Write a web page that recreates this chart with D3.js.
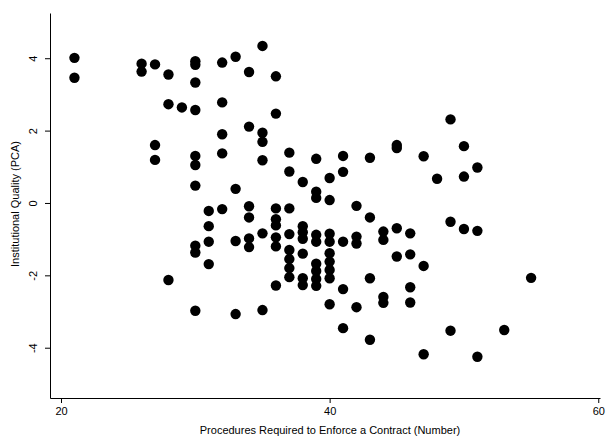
<!DOCTYPE html>
<html lang="en">
<head>
  <meta charset="UTF-8">
  <title>Procedures vs Institutional Quality</title>
  <script src="https://d3js.org/d3.v7.min.js"></script>
  <style>
    * { margin: 0; padding: 0; box-sizing: border-box; }
    body { background: #fff; width: 609px; height: 439px; overflow: hidden; }
    svg { display: block; font-family: 'Liberation Sans', Arial, sans-serif; }
    .axis text { font-size: 11px; fill: #000; }
    .axis line, .axis path { stroke: #000; stroke-width: 1; }
    .title { font-size: 11px; fill: #000; }
  </style>
</head>
<body>
  <svg id="chart" width="609" height="439"></svg>

  <script>
    // one entry per country: procedures (x) and institutional quality (y)
    const procedures = [
      21, 21,
      26, 26,
      27, 27, 27,
      28, 28, 28,
      29,
      30, 30, 30, 30, 30, 30, 30, 30, 30, 30,
      31, 31, 31, 31,
      32, 32, 32, 32, 32,
      33, 33, 33, 33,
      34, 34, 34, 34, 34, 34,
      35, 35, 35, 35, 35, 35,
      36, 36, 36, 36, 36, 36, 36, 36,
      37, 37, 37, 37, 37, 37, 37, 37,
      38, 38, 38, 38, 38, 38, 38,
      39, 39, 39, 39, 39, 39, 39, 39, 39,
      40, 40, 40, 40, 40, 40, 40, 40, 40,
      41, 41, 41, 41, 41,
      42, 42, 42, 42,
      43, 43, 43, 43,
      44, 44, 44, 44,
      45, 45, 45, 45,
      46, 46, 46, 46,
      47, 47, 47,
      48,
      49, 49, 49,
      50, 50, 50,
      51, 51, 51,
      53,
      55
    ];

    const quality = [
      4.01, 3.46,
      3.85, 3.63,
      3.83, 1.60, 1.19,
      3.55, 2.73, -2.13,
      2.64,
      3.92, 3.82, 3.33, 2.57, 1.30, 1.05, 0.48, -1.18, -1.37, -2.98,
      -0.22, -0.64, -1.07, -1.69,
      3.88, 2.78, 1.90, 1.37, -0.17,
      4.04, 0.39, -1.05, -3.07,
      3.62, 2.11, -0.09, -0.40, -0.98, -1.22,
      4.34, 1.94, 1.69, 1.18, -0.84, -2.96,
      3.50, 2.47, -0.15, -0.45, -0.62, -0.95, -1.20, -2.28,
      1.39, 0.87, -0.15, -0.86, -1.30, -1.55, -1.80, -2.05,
      0.58, -0.64, -0.81, -0.99, -1.40, -2.08, -2.27,
      1.22, 0.31, 0.14, -0.88, -1.07, -1.68, -1.88, -2.10, -2.29,
      0.69, 0.08, -0.85, -1.07, -1.39, -1.62, -1.85, -2.08, -2.80,
      1.30, 0.86, -1.07, -2.38, -3.46,
      -0.08, -0.93, -1.12, -2.88,
      1.25, -0.40, -2.08, -3.78,
      -0.79, -1.02, -2.60, -2.76,
      1.60, 1.52, -0.70, -1.48,
      -0.84, -1.42, -2.33, -2.75,
      1.29, -1.74, -4.18,
      0.67,
      2.31, -0.52, -3.53,
      1.57, 0.73, -0.72,
      0.98, -0.77, -4.25,
      -3.51,
      -2.07
    ];

    const xTicks = [20, 40, 60];
    const yTicks = [-4, -2, 0, 2, 4];

    const data = procedures.map((p, i) => ({ x: p, y: quality[i] }));

    const svg = d3.select("#chart");

    const x = d3.scaleLinear().domain([19.18, 60.13]).range([50, 600]);
    const y = d3.scaleLinear().domain([-5.39, 5.25]).range([398, 13]);

    svg.append("g")
      .attr("class", "axis")
      .attr("transform", "translate(0,398)")
      .call(d3.axisBottom(x).tickValues(xTicks).tickSize(5).tickSizeOuter(0).tickPadding(4));

    const yAxis = svg.append("g")
      .attr("class", "axis")
      .attr("transform", "translate(50,0)")
      .call(d3.axisLeft(y).tickValues(yTicks).tickSize(5).tickSizeOuter(0)
        .tickFormat(d => d < 0 ? "-" + Math.abs(d) : d));

    // stata style: y tick labels rotated
    yAxis.selectAll(".tick text")
      .attr("transform", "rotate(-90)")
      .attr("x", 0)
      .attr("y", -13)
      .attr("dy", 0)
      .style("text-anchor", "middle");

    svg.append("g")
      .selectAll("circle")
      .data(data)
      .enter().append("circle")
      .attr("cx", d => x(d.x))
      .attr("cy", d => y(d.y))
      .attr("r", 5.2)
      .attr("fill", "#000");

    svg.append("text")
      .attr("class", "title")
      .attr("x", 330)
      .attr("y", 434)
      .attr("text-anchor", "middle")
      .text("Procedures Required to Enforce a Contract (Number)");

    svg.append("text")
      .attr("class", "title")
      .attr("transform", "translate(19,204) rotate(-90)")
      .attr("text-anchor", "middle")
      .text("Institutional Quality (PCA)");
  </script>
</body>
</html>
